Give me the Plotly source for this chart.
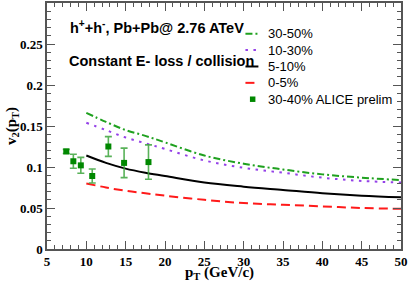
import plotly.graph_objects as go

# ---- data ----
pt_curve = [10, 12.5, 15, 17.5, 20, 25, 30, 35, 40, 45, 50]
v2_30_50 = [0.166, 0.155, 0.145, 0.138, 0.130, 0.114, 0.104, 0.097, 0.091, 0.087, 0.084]
v2_10_30 = [0.154, 0.145, 0.136, 0.129, 0.122, 0.108, 0.099, 0.093, 0.087, 0.083, 0.081]
v2_5_10 = [0.114, 0.105, 0.098, 0.093, 0.089, 0.081, 0.076, 0.072, 0.068, 0.065, 0.063]
v2_0_5 = [0.080, 0.075, 0.071, 0.068, 0.065, 0.060, 0.056, 0.054, 0.052, 0.050, 0.049]

alice_pt = [7.45, 8.35, 9.3, 10.75, 12.8, 14.8, 17.9]
alice_v2 = [0.119, 0.107, 0.102, 0.089, 0.125, 0.105, 0.106]
alice_err = [0.0025, 0.0085, 0.0097, 0.0085, 0.012, 0.018, 0.021]

x_ticks = [5, 10, 15, 20, 25, 30, 35, 40, 45, 50]
y_ticks = [0, 0.05, 0.1, 0.15, 0.2, 0.25]
y_ticklabels = ["0", "0.05", "0.1", "0.15", "0.2", "0.25"]

# ---- styles ----
W, H = 409, 283
ML, MR, MT, MB = 47, 7, 1, 34
PW, PH = W - ML - MR, H - MT - MB

green_dd = "#1fa11f"
purple = "#9440e8"
red = "#ff1a1a"
alice_col = "#008800"
alice_err_col = "rgba(60,165,60,0.85)"

curves = [
    ("30-50%", v2_30_50, green_dd, "7px,3px,2px,3px"),
    ("10-30%", v2_10_30, purple, "2.5px,5.5px"),
    ("5-10%", v2_5_10, "black", "solid"),
    ("0-5%", v2_0_5, red, "9px,5px"),
]

fig = go.Figure()
for name, ys, col, dash in curves:
    fig.add_trace(go.Scatter(x=pt_curve, y=ys, mode="lines", name=name,
                             line=dict(color=col, width=2, dash=dash, shape="spline"),
                             showlegend=False))

fig.add_trace(go.Scatter(
    x=alice_pt, y=alice_v2, mode="markers", name="30-40% ALICE prelim",
    marker=dict(symbol="square", size=6, color=alice_col),
    error_y=dict(type="data", array=alice_err, color=alice_err_col, thickness=1.6, width=3.5),
    showlegend=False))

axis_col = "#555555"
tickfont = dict(family="Liberation Serif, Times New Roman, serif", size=13, color="black", weight="bold")

fig.update_xaxes(range=[5, 50], tickvals=x_ticks, ticks="inside", ticklen=8, tickwidth=1.2,
                 tickcolor=axis_col, showline=True, linecolor=axis_col, linewidth=1.5,
                 mirror="allticks", showgrid=False, zeroline=False, tickfont=tickfont,
                 minor=dict(dtick=1, ticks="inside", ticklen=4, tickcolor=axis_col, tickwidth=1.2))
fig.update_yaxes(range=[0, 0.3], tickvals=y_ticks, ticktext=y_ticklabels, ticks="inside", ticklen=8,
                 tickwidth=1.2, tickcolor=axis_col, showline=True, linecolor=axis_col, linewidth=1.5,
                 mirror="allticks", showgrid=False, zeroline=False, tickfont=tickfont,
                 minor=dict(dtick=0.01, tick0=0, ticks="inside", ticklen=4, tickcolor=axis_col, tickwidth=1.2))

def px_x(p):
    return (p - ML) / PW

def px_y(p):
    return (H - MB - p) / PH

sans = "Liberation Sans, Arial, sans-serif"
serif = "Liberation Serif, Times New Roman, serif"
annotations = [
    dict(text="h<sup>+</sup>+h<sup>-</sup>, Pb+Pb@ 2.76 ATeV", x=px_x(68), y=px_y(25),
         xanchor="left", yanchor="middle", font=dict(family=sans, size=14.5, color="black", weight="bold")),
    dict(text="Constant E- loss / collision", x=px_x(67), y=px_y(59),
         xanchor="left", yanchor="middle", font=dict(family=sans, size=14.5, color="black", weight="bold")),
    dict(text="v<sub>2</sub>(p<sub>T</sub>)", x=px_x(12), y=px_y(125), textangle=-90,
         xanchor="center", yanchor="middle",
         font=dict(family=serif, size=15, color="black", weight="bold")),
    dict(text="p<sub>T</sub> (GeV/c)", x=px_x(220), y=px_y(273),
         xanchor="center", yanchor="middle",
         font=dict(family=serif, size=15, color="black", weight="bold")),
]

shapes = []
legend_rows = [32, 48.5, 65, 81.5, 98]
for (name, ys, col, dash), ry in zip(curves, legend_rows):
    shapes.append(dict(type="line", xref="paper", yref="paper", x0=px_x(246), x1=px_x(259),
                       y0=px_y(ry), y1=px_y(ry), line=dict(color=col, width=2, dash=dash)))
    annotations.append(dict(text=name, x=px_x(267), y=px_y(ry), xanchor="left", yanchor="middle",
                            font=dict(family=sans, size=13, color="black")))
ry = legend_rows[-1]
shapes.append(dict(type="rect", xref="paper", yref="paper", x0=px_x(250.5), x1=px_x(256),
                   y0=px_y(ry + 2.75), y1=px_y(ry - 2.75), fillcolor=alice_col, line=dict(width=0)))
annotations.append(dict(text="30-40% ALICE prelim", x=px_x(267), y=px_y(ry), xanchor="left",
                        yanchor="middle", font=dict(family=sans, size=13, color="black")))

for a in annotations:
    a.setdefault("xref", "paper")
    a.setdefault("yref", "paper")
    a["showarrow"] = False

fig.update_layout(width=W, height=H, margin=dict(l=ML, r=MR, t=MT, b=MB),
                  plot_bgcolor="white", paper_bgcolor="white",
                  annotations=annotations, shapes=shapes, showlegend=False)

fig.write_html("out.html", config={"displayModeBar": False},
               post_script="document.body.style.margin='0';document.body.style.overflow='hidden';")
